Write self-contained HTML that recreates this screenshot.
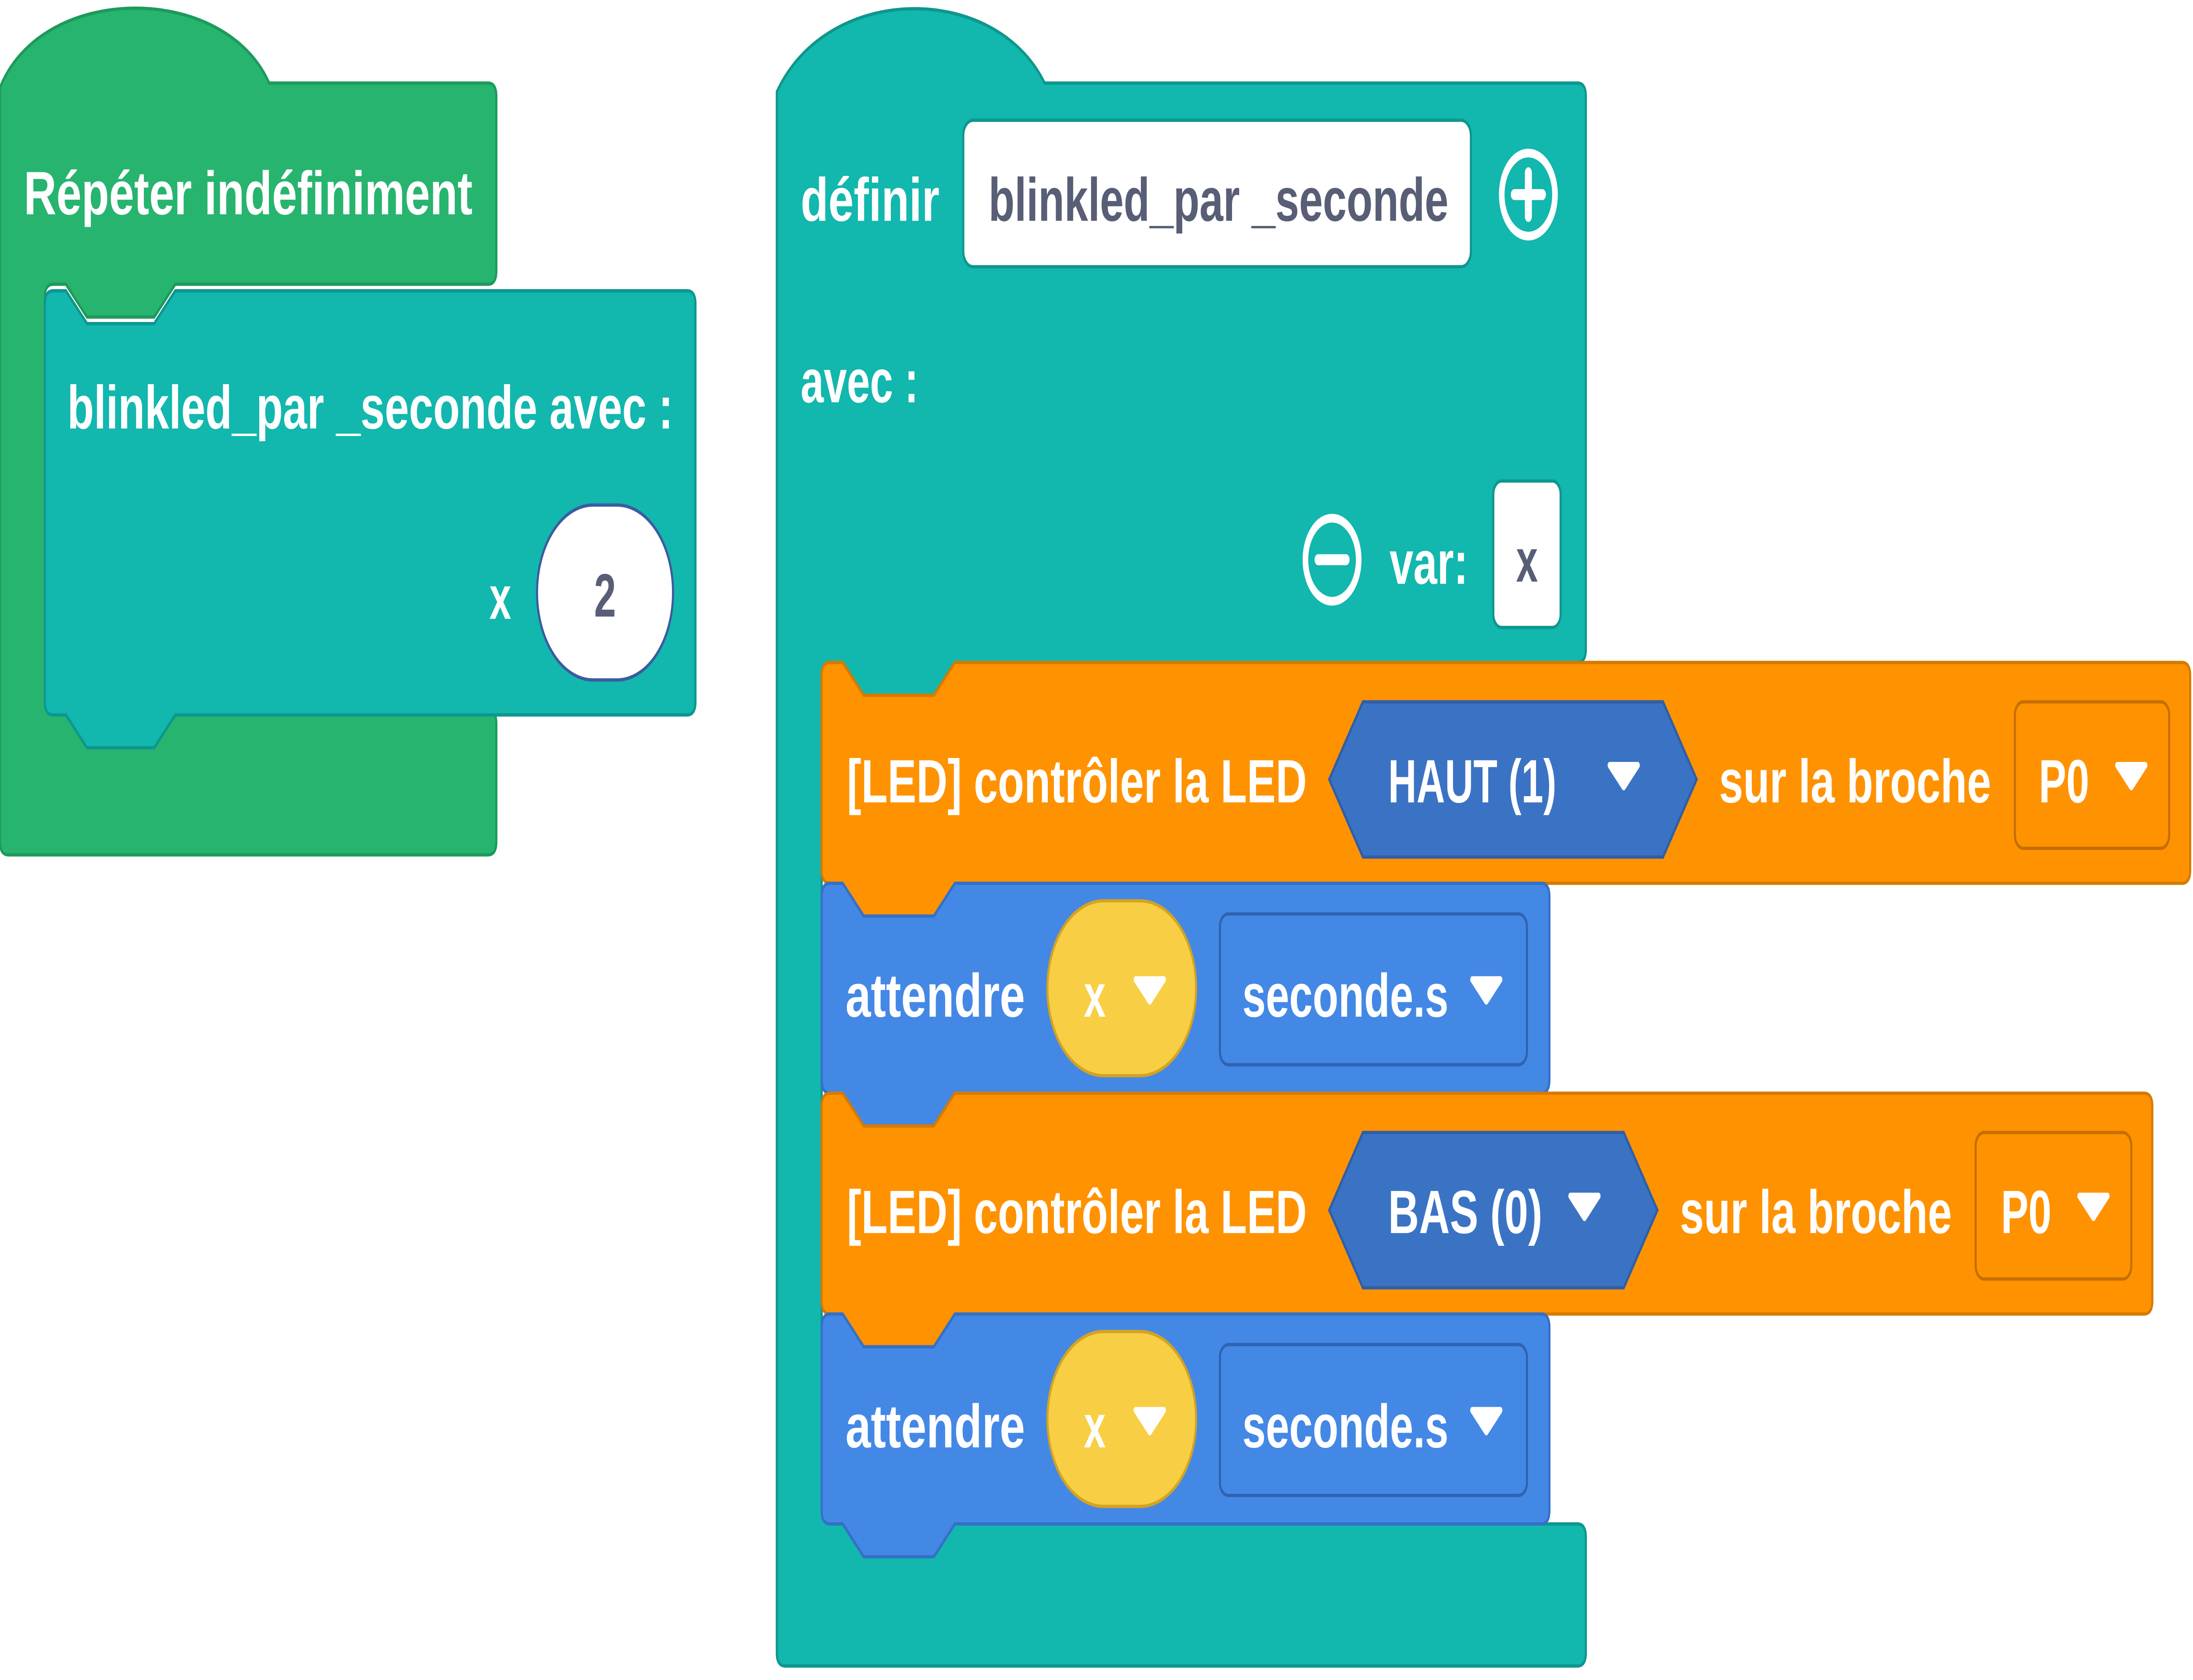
<!DOCTYPE html>
<html><head><meta charset="utf-8"><style>
html,body{margin:0;padding:0;background:#fff;width:100%;height:100%;overflow:hidden;}
svg{display:block;width:100vw;height:100vh;}
text{font-family:"Liberation Sans",sans-serif;font-weight:bold;}
</style></head><body>
<svg viewBox="0 0 1564 768.4" preserveAspectRatio="none" xmlns="http://www.w3.org/2000/svg">
<g>
<path d="M0,40 C30,-8 160,-8 192,38 L348,38 Q354,38 354,44 L354,124 Q354,130 348,130 L125,130 L110,145 L62,145 L47,130 L38,130 Q32,130 32,136 L32,319 Q32,325 38,325 L47,325 L62,340 L110,340 L125,325 L348,325 Q354,325 354,331 L354,385 Q354,391 348,391 L6,391 Q0,391 0,385 Z" fill="#27b46f" stroke="#1d9a5b" stroke-width="1.5"/>
<text x="17" y="98" font-size="28" fill="#fff" textLength="320" lengthAdjust="spacingAndGlyphs">Répéter indéfiniment</text>
</g>
<g>
<path d="M38,133 L47,133 L62,148 L110,148 L125,133 L490,133 Q496,133 496,139 L496,321 Q496,327 490,327 L125,327 L110,342 L62,342 L47,327 L38,327 Q32,327 32,321 L32,139 Q32,133 38,133 Z" fill="#12b7ae" stroke="#0e968e" stroke-width="1.5"/>
<text x="48" y="196" font-size="28" fill="#fff" textLength="432" lengthAdjust="spacingAndGlyphs">blinkled_par _seconde  avec :</text>
<text x="349" y="283" font-size="28" fill="#fff">x</text>
<rect x="383" y="231" width="97" height="80" rx="40" fill="#fff" stroke="#3a5ca0" stroke-width="1.5"/>
<text x="431.5" y="282" font-size="28" fill="#575e75" text-anchor="middle">2</text>
</g>
<g>
<path d="M554,42 C590,-8 710,-8 745,38 L1125,38 Q1131,38 1131,44 L1131,297 Q1131,303 1125,303 L681,303 L666,318 L616,318 L601,303 L592,303 Q586,303 586,309 L586,691 Q586,697 592,697 L601,697 L616,712 L666,712 L681,697 L1125,697 Q1131,697 1131,703 L1131,756 Q1131,762 1125,762 L560,762 Q554,762 554,756 Z" fill="#12b7ae" stroke="#0e968e" stroke-width="1.5"/>
<text x="571" y="101" font-size="28" fill="#fff" textLength="99" lengthAdjust="spacingAndGlyphs">définir</text>
<rect x="687" y="55" width="362" height="67" rx="7" fill="#fff" stroke="#0e968e" stroke-width="1.5"/>
<text x="705" y="101" font-size="28" fill="#575e75" textLength="328" lengthAdjust="spacingAndGlyphs">blinkled_par _seconde</text>
<g>
<circle cx="1090" cy="89" r="19" fill="none" stroke="#fff" stroke-width="4"/>
<path d="M1080,89 H1100 M1090,79 V99" stroke="#fff" stroke-width="5" stroke-linecap="round"/>
</g>
<text x="571" y="184" font-size="28" fill="#fff" textLength="84" lengthAdjust="spacingAndGlyphs">avec :</text>
<g>
<circle cx="950" cy="256" r="19" fill="none" stroke="#fff" stroke-width="4"/>
<path d="M940,256 H960" stroke="#fff" stroke-width="5" stroke-linecap="round"/>
</g>
<text x="991" y="267" font-size="28" fill="#fff" textLength="56" lengthAdjust="spacingAndGlyphs">var:</text>
<rect x="1065" y="220" width="48" height="67" rx="6" fill="#fff" stroke="#0e968e" stroke-width="1.5"/>
<text x="1089" y="266" font-size="28" fill="#575e75" text-anchor="middle">x</text>
</g>

<g>
<path d="M592,303 L601,303 L616,318 L666,318 L681,303 L1556,303 Q1562,303 1562,309 L1562,398 Q1562,404 1556,404 L681,404 L666,419 L616,419 L601,404 L592,404 Q586,404 586,398 L586,309 Q586,303 592,303 Z" fill="#ff9200" stroke="#d67a00" stroke-width="1.5"/>
<text x="604" y="367" font-size="28" fill="#fff" textLength="328" lengthAdjust="spacingAndGlyphs">[LED] contrôler la LED</text>
<path d="M948,356.5 L972,321 L1186,321 L1210,356.5 L1186,392 L972,392 Z" fill="#3b73c4" stroke="#2f5ea8" stroke-width="1.5"/>
<text x="990" y="367" font-size="28" fill="#fff" textLength="120" lengthAdjust="spacingAndGlyphs">HAUT (1)</text>
<path d="M1148,350 L1168,350 L1158,360 Z" fill="#fff" stroke="#fff" stroke-width="3" stroke-linejoin="round"/>
<text x="1226" y="367" font-size="28" fill="#fff" textLength="194" lengthAdjust="spacingAndGlyphs">sur la broche</text>
<rect x="1437" y="321" width="110" height="67" rx="6" fill="#ff9200" stroke="#c46f00" stroke-width="1.5"/>
<text x="1454" y="367" font-size="28" fill="#fff" textLength="36" lengthAdjust="spacingAndGlyphs">P0</text>
<path d="M1510,350 L1530,350 L1520,360 Z" fill="#fff" stroke="#fff" stroke-width="3" stroke-linejoin="round"/>
</g>

<g>
<path d="M592,404 L601,404 L616,419 L666,419 L681,404 L1099,404 Q1105,404 1105,410 L1105,494 Q1105,500 1099,500 L681,500 L666,515 L616,515 L601,500 L592,500 Q586,500 586,494 L586,410 Q586,404 592,404 Z" fill="#4488e6" stroke="#3470c8" stroke-width="1.5"/>
<text x="603" y="465" font-size="28" fill="#fff" textLength="128" lengthAdjust="spacingAndGlyphs">attendre</text>
<rect x="747" y="412" width="106" height="80" rx="40" fill="#f8cf44" stroke="#d3a321" stroke-width="1.5"/>
<text x="773" y="465" font-size="28" fill="#fff">x</text>
<path d="M810,448 L830,448 L820,458 Z" fill="#fff" stroke="#fff" stroke-width="3" stroke-linejoin="round"/>
<rect x="870" y="418" width="219" height="69" rx="6" fill="#4488e6" stroke="#2f63b0" stroke-width="1.5"/>
<text x="886" y="465" font-size="28" fill="#fff" textLength="147" lengthAdjust="spacingAndGlyphs">seconde.s</text>
<path d="M1050,448 L1070,448 L1060,458 Z" fill="#fff" stroke="#fff" stroke-width="3" stroke-linejoin="round"/>
</g>

<g>
<path d="M592,500 L601,500 L616,515 L666,515 L681,500 L1529,500 Q1535,500 1535,506 L1535,595 Q1535,601 1529,601 L681,601 L666,616 L616,616 L601,601 L592,601 Q586,601 586,595 L586,506 Q586,500 592,500 Z" fill="#ff9200" stroke="#d67a00" stroke-width="1.5"/>
<text x="604" y="564" font-size="28" fill="#fff" textLength="328" lengthAdjust="spacingAndGlyphs">[LED] contrôler la LED</text>
<path d="M948,553.5 L972,518 L1158,518 L1182,553.5 L1158,589 L972,589 Z" fill="#3b73c4" stroke="#2f5ea8" stroke-width="1.5"/>
<text x="990" y="564" font-size="28" fill="#fff" textLength="110" lengthAdjust="spacingAndGlyphs">BAS (0)</text>
<path d="M1120,547 L1140,547 L1130,557 Z" fill="#fff" stroke="#fff" stroke-width="3" stroke-linejoin="round"/>
<text x="1198" y="564" font-size="28" fill="#fff" textLength="194" lengthAdjust="spacingAndGlyphs">sur la broche</text>
<rect x="1409" y="518" width="111" height="67" rx="6" fill="#ff9200" stroke="#c46f00" stroke-width="1.5"/>
<text x="1427" y="564" font-size="28" fill="#fff" textLength="36" lengthAdjust="spacingAndGlyphs">P0</text>
<path d="M1483,547 L1503,547 L1493,557 Z" fill="#fff" stroke="#fff" stroke-width="3" stroke-linejoin="round"/>
</g>

<g>
<path d="M592,601 L601,601 L616,616 L666,616 L681,601 L1099,601 Q1105,601 1105,607 L1105,691 Q1105,697 1099,697 L681,697 L666,712 L616,712 L601,697 L592,697 Q586,697 586,691 L586,607 Q586,601 592,601 Z" fill="#4488e6" stroke="#3470c8" stroke-width="1.5"/>
<text x="603" y="662" font-size="28" fill="#fff" textLength="128" lengthAdjust="spacingAndGlyphs">attendre</text>
<rect x="747" y="609" width="106" height="80" rx="40" fill="#f8cf44" stroke="#d3a321" stroke-width="1.5"/>
<text x="773" y="662" font-size="28" fill="#fff">x</text>
<path d="M810,645 L830,645 L820,655 Z" fill="#fff" stroke="#fff" stroke-width="3" stroke-linejoin="round"/>
<rect x="870" y="615" width="219" height="69" rx="6" fill="#4488e6" stroke="#2f63b0" stroke-width="1.5"/>
<text x="886" y="662" font-size="28" fill="#fff" textLength="147" lengthAdjust="spacingAndGlyphs">seconde.s</text>
<path d="M1050,645 L1070,645 L1060,655 Z" fill="#fff" stroke="#fff" stroke-width="3" stroke-linejoin="round"/>
</g>
</svg>
</body></html>
